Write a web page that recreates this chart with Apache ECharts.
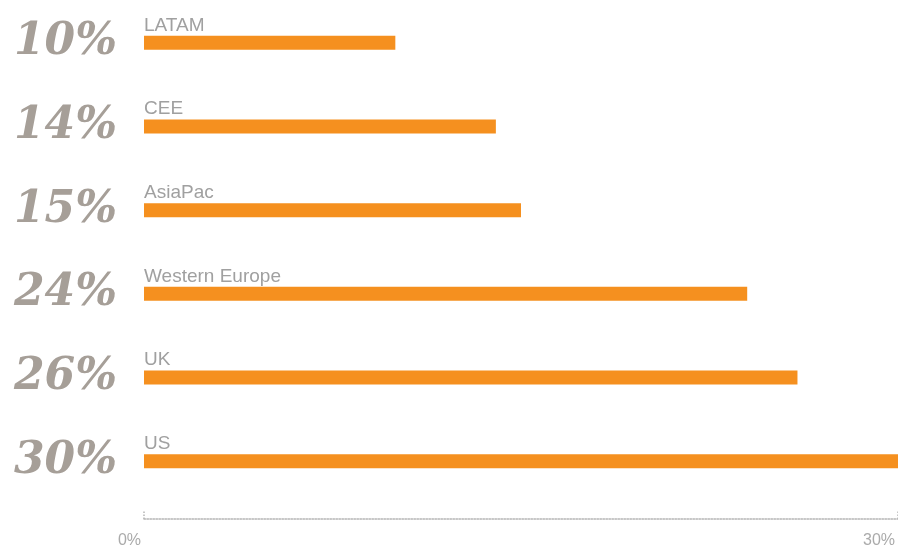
<!DOCTYPE html>
<html><head><meta charset="utf-8">
<script src="https://cdn.jsdelivr.net/npm/echarts@6/dist/echarts.min.js"></script>
<style>html,body{margin:0;padding:0;background:#fff}#c{width:898px;height:549px}</style>
</head><body><div id="c"></div>
<script>
const categories = ['LATAM','CEE','AsiaPac','Western Europe','UK','US'];
const values = [10,14,15,24,26,30];
const xTicks = [0,30];

const chart = echarts.init(document.getElementById('c'));
chart.setOption({
  animation:false,
  grid:{left:144,right:0,top:1,bottom:46},
  xAxis:{type:'value',min:xTicks[0],max:xTicks[1],interval:30,offset:16,
    splitLine:{show:false},
    axisLine:{show:true,lineStyle:{color:'#b5b5b5',type:'dotted',width:1.5}},
    axisTick:{show:true,inside:true,length:9,lineStyle:{color:'#b5b5b5',type:'dotted',width:1.5}},
    axisLabel:{formatter:v=>v+'%',color:'#aaaaaa',fontSize:16,fontFamily:'Liberation Sans',margin:14,align:'right',padding:[0,3,0,0]}
  },
  yAxis:{type:'category',data:categories,inverse:true,
    axisLine:{show:false},axisTick:{show:false},
    axisLabel:{margin:27,formatter:(v,i)=>values[i]+'%',color:'#a69f98',padding:[0,0,16,0],
      fontFamily:'DejaVu Serif',fontStyle:'italic',fontWeight:'bold',fontSize:44}
  },
  series:[{type:'bar',data:values,barWidth:14,itemStyle:{color:'#f5901f'},
    label:{show:true,position:[0,-1],verticalAlign:'bottom',align:'left',
      formatter:p=>p.name,color:'#a0a0a0',fontSize:19,fontFamily:'Liberation Sans'}
  }]
});
</script></body></html>
